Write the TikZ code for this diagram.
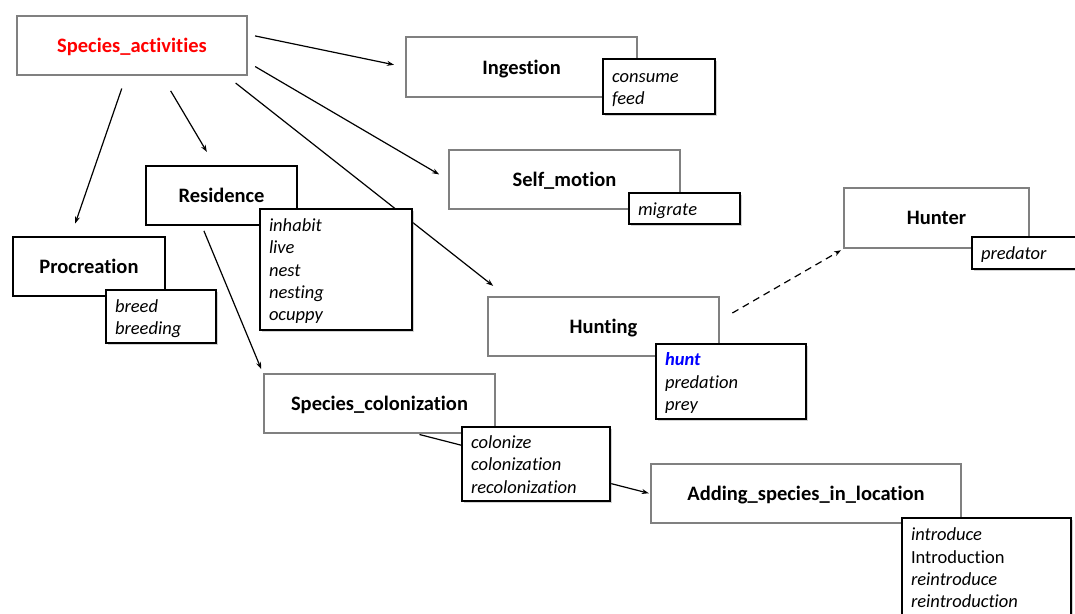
\documentclass[tikz,border=0pt]{standalone}
\usepackage{fontspec}
\setmainfont{Carlito}[Ligatures=NoCommon]
\usetikzlibrary{arrows.meta,shadows,backgrounds}
\begin{document}
\begin{tikzpicture}[x=1pt,y=-1pt,
	frame/.style={draw=gray,line width=2.5pt,fill=white,inner sep=0pt,text depth=0pt,
		font=\bfseries\fontsize{20.5}{23}\selectfont},
	heavyframe/.style={frame,draw=black},
	terms/.style={draw=black,line width=1.4pt,fill=white,align=left,inner xsep=9pt,inner ysep=0pt,
		font=\itshape\fontsize{18.5}{22.3}\selectfont,
		execute at begin node=\rule{0pt}{21pt},
		execute at end node=\rule[-7.5pt]{0pt}{7.5pt},
		drop shadow={shadow xshift=1.5pt,shadow yshift=-1.5pt,opacity=.35}},
	arr/.style={-{Stealth[length=7pt,width=5pt]},line width=1.2pt}]
			\useasboundingbox (0,0) rectangle (1075,613);
			\clip (0,0) rectangle (1075,613);
			%top
			\node[frame,minimum width=230,minimum height=59,text=red] (act) at (132,45.5) {Species\_activities};
			\node[frame,minimum width=231,minimum height=60] (ing) at (521.5,67) {Ingestion};
			\node[terms,minimum height=55,text width=94] (ingT) at (659,86.5) {consume\\feed};
			\node[frame,minimum width=231,minimum height=59] (self) at (564.5,179.5) {Self\_motion};
			\node[terms,minimum height=31,text width=93] (selfT) at (684.5,208.5) {migrate};
			%hunting
			\node[frame,minimum width=185,minimum height=60] (hunter) at (936.5,218) {Hunter};
			\node[terms,minimum height=32,text width=90] (hunterT) at (1026,253) {predator};
			\node[frame,minimum width=231,minimum height=59] (hunt) at (603.5,326.5) {Hunting};
			\node[terms,minimum height=75,text width=132] (huntT) at (731,381.5) {{\bfseries\color{blue}hunt}\\predation\\prey};
			%left side
			\node[heavyframe,minimum width=151,minimum height=59] (res) at (221.5,195.5) {Residence};
			\node[terms,minimum height=121,text width=134] (resT) at (336,269.5) {inhabit\\live\\nest\\nesting\\ocuppy};
			\node[heavyframe,minimum width=152,minimum height=59] (proc) at (89,266.5) {Procreation};
			\node[terms,minimum height=53,text width=92] (procT) at (161,316.5) {breed\\breeding};
			%colonization
			\node[frame,minimum width=231,minimum height=59] (col) at (379.5,403.5) {Species\_colonization};
			\node[terms,minimum height=74,text width=130] (colT) at (536,464) {colonize\\colonization\\recolonization};
			\node[frame,minimum width=310,minimum height=59] (add) at (806,493.5) {Adding\_species\_in\_location};
			\node[terms,minimum height=99,text width=151] (addT) at (986.5,567.5) {introduce\\{\upshape Introduction}\\reintroduce\\reintroduction};
			% arrows
			\begin{scope}[on background layer]
				\draw[arr,shorten <=7pt,shorten >=11pt] ([yshift=11pt]act.east) -- (ing.west);
				\draw[arr,shorten <=8pt,shorten >=10pt] ([yshift=-17pt]act.east) -- (self.west);
				\draw[arr,shorten <=11pt,shorten >=16pt] ([xshift=95pt]act.south) -- ([xshift=19pt]hunt.north west);
				\draw[arr,shorten <=13pt,shorten >=13pt] ([xshift=-6pt]act.south) -- ([xshift=-18pt]proc.north);
				\draw[arr,shorten <=17pt,shorten >=15pt] ([xshift=30pt]act.south) -- ([xshift=-7pt]res.north);
				\draw[arr,shorten <=5pt,shorten >=4pt] ([xshift=-19.5pt]res.south) -- (col.north west);
				\draw[arr,shorten <=1pt,shorten >=1pt] ([xshift=39pt]col.south) -- (add.west);
				\draw[arr,dash pattern=on 7pt off 5pt,shorten <=14pt,shorten >=2pt] ([yshift=6.5pt]hunt.east) -- (hunter.south west);
			\end{scope}
		\end{tikzpicture}
\end{document}
